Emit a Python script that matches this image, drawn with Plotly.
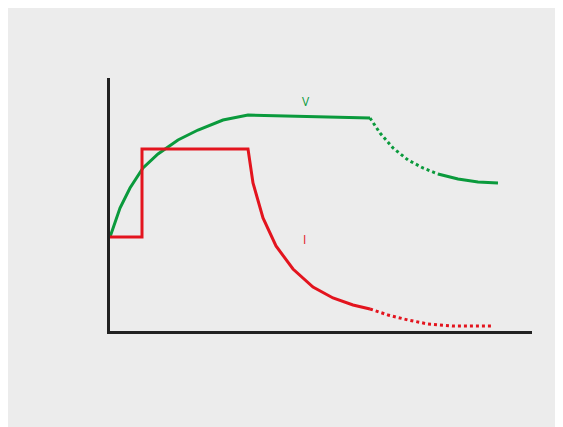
import plotly.graph_objects as go

# pixel-derived coordinates (x from y-axis, y up from x-axis)
OX, OY = 102, 323
v_rise_x = [102,112,122,135,150,170,190,215,240]
v_rise_y = [229,200,180,160,146,132,122,112,107]
v_flat_x = [240,362]; v_flat_y = [107,110]
v_dash_x = [362,372,385,400,415,430]; v_dash_y = [110,125,140,152,160,166]
v_tail_x = [430,450,470,490]; v_tail_y = [166,171,174,175]
i_step_x = [102,134,134,240]; i_step_y = [229,229,141,141]
i_dec_x = [240,245,255,268,285,305,325,345,362]
i_dec_y = [141,175,210,238,261,279,290,297,301]
i_dash_x = [362,380,400,420,445,485]; i_dash_y = [301,307,312,316,318,318]
x_labels = ["1","2","3","5","t"]; x_label_pos = [116,183,302,402,509]
y_labels = ["Vmax","Imax","Imax/2"]; y_label_pos = [108,142,229]

G, R = "#0a9a3c", "#e3141e"
def tx(a): return [v-OX for v in a]
def ty(a): return [OY-v for v in a]

fig = go.Figure()
for xs, ys, c, d in [(v_rise_x+v_flat_x[1:], v_rise_y+v_flat_y[1:], G, "solid"),
                     (v_dash_x, v_dash_y, G, "dot"), (v_tail_x, v_tail_y, G, "solid"),
                     (i_step_x+i_dec_x[1:], i_step_y+i_dec_y[1:], R, "solid"),
                     (i_dash_x, i_dash_y, R, "dot")]:
    fig.add_trace(go.Scatter(x=tx(xs), y=ty(ys), mode="lines",
                             line=dict(color=c, width=3, dash=d), showlegend=False))
f = dict(family="Open Sans", size=16, color="#333")
for t, p in zip(x_labels, x_label_pos):
    fig.add_annotation(x=p-OX, y=OY-350, text=t, showarrow=False, font=f)
for t, p in zip(y_labels, y_label_pos):
    fig.add_annotation(x=-70+ (0), y=OY-p, text=t, showarrow=False, font=f, xanchor="left", xref="x")
fig.add_annotation(x=298-OX, y=OY-93, text="V", showarrow=False, font=dict(family="Open Sans", size=12, color=G))
fig.add_annotation(x=296-OX, y=OY-231, text="I", showarrow=False, font=dict(family="Open Sans", size=12, color=R))
fig.update_layout(width=563, height=427, paper_bgcolor="#ececec", plot_bgcolor="#ececec",
                  margin=dict(l=102, r=39, t=70, b=104))
fig.update_xaxes(range=[0,422], showgrid=False, zeroline=False, showticklabels=False,
                 showline=True, linecolor="#222", linewidth=3)
fig.update_yaxes(range=[0,253], showgrid=False, zeroline=False, showticklabels=False,
                 showline=True, linecolor="#222", linewidth=3)
fig.write_html("out.html")
